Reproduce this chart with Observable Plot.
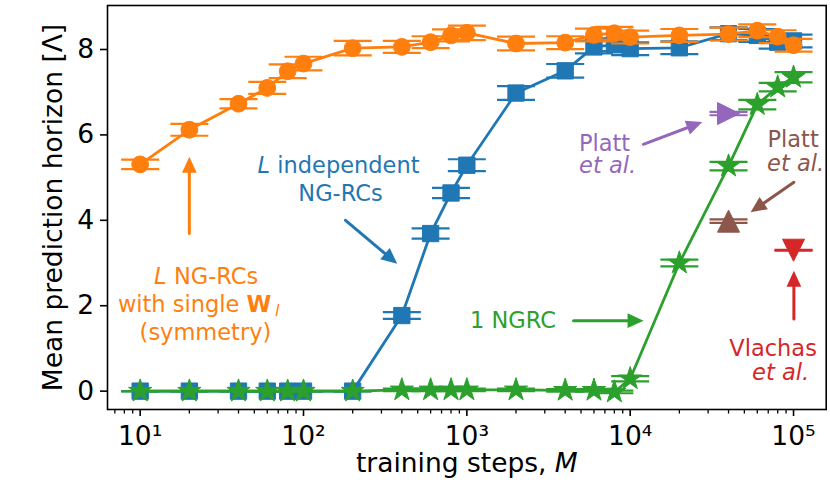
<!DOCTYPE html>
<html><head><meta charset="utf-8">
<script src="https://cdn.jsdelivr.net/npm/d3@7"></script>
<script src="https://cdn.jsdelivr.net/npm/@observablehq/plot@0.6"></script>
<style>body{margin:0;background:#fff} #chart svg{display:block}</style>
</head><body><div id="chart"></div>
<script>
// ---------- data ----------
const steps = [10,20,40,60,80,100,200,400,600,800,1000,2000,4000,6000,8000,10000,20000,40000,60000,80000,100000];
const sharedWValues = [5.31,6.12,6.73,7.10,7.49,7.67,8.03,8.06,8.17,8.33,8.39,8.14,8.16,8.34,8.38,8.29,8.33,8.36,8.44,8.30,8.10];
const sharedWErr    = [0.11,0.14,0.11,0.14,0.16,0.16,0.17,0.14,0.14,0.14,0.17,0.16,0.15,0.15,0.15,0.15,0.15,0.15,0.15,0.15,0.15];
const independentValues = [0,0,0,0,0,0,0,1.77,3.69,4.64,5.29,6.98,7.50,8.06,8.11,8.02,8.04,8.37,8.33,8.17,8.20];
const independentErr    = [0,0,0,0,0,0,0,0.08,0.12,0.12,0.14,0.16,0.16,0.15,0.15,0.15,0.15,0.15,0.15,0.15,0.15];
const singleValues = [0,0,0,0,0,0,0,0.03,0.03,0.03,0.03,0.03,0.02,0.02,-0.02,0.29,3.00,5.27,6.71,7.12,7.35];
const singleErr    = [0,0,0,0,0,0,0,0.03,0.03,0.03,0.03,0.03,0.03,0.03,0.03,0.06,0.08,0.10,0.11,0.10,0.12];
const refNames  = ["Platt (purple)","Platt (brown)","Vlachas"];
const refSteps  = [40000,40000,100000];
const refValues = [6.50,3.98,3.30];
const refErr    = [0.04,0.04,0.01];
const xMajorTicks = [10,100,1000,10000,100000];
const xTickLabels = ["10\u00B9","10\u00B2","10\u00B3","10\u2074","10\u2075"];
const yTicks = [0,2,4,6,8];
const yTickLabels = ["0","2","4","6","8"];

// annotation arrows (data coordinates: tail -> tip)
const arrowKeys = ["orange","blue","green","purple","brown","red"];
const arrowX1 = [20, 180.8, 4501, 12027, 100500, 100500];
const arrowY1 = [3.69, 4.00, 1.65, 5.78, 4.89, 1.69];
const arrowX2 = [20, 374.8, 12077, 27627, 54590, 100500];
const arrowY2 = [5.49, 2.98, 1.65, 6.30, 4.19, 2.82];

// ---------- layout / style ----------
const W = 830, H = 485;
const ML = 107, MR = 4.3, MT = 5, MB = 76;
const xDomain = [10 ** 0.8, 10 ** 5.2];
const yDomain = [-0.43, 9.03];
const C = {blue:"#1f77b4", orange:"#ff7f0e", green:"#2ca02c", red:"#d62728", purple:"#9467bd", brown:"#8c564b"};
const FONT = "DejaVu Sans";
const AF = 22.5; // annotation font size

function sym(fn){ return {draw(ctx, size){ const r = Math.sqrt(size / Math.PI); fn(ctx, r); }}; }
const capSym   = sym((c,r)=>{ c.moveTo(-r,0); c.lineTo(r,0); });
const triUp    = sym((c,r)=>{ c.moveTo(0,-r); c.lineTo(r,r); c.lineTo(-r,r); c.closePath(); });
const triDown  = sym((c,r)=>{ c.moveTo(0,r); c.lineTo(r,-r); c.lineTo(-r,-r); c.closePath(); });
const triRight = sym((c,r)=>{ c.moveTo(r,0); c.lineTo(-r,r); c.lineTo(-r,-r); c.closePath(); });
const headSym  = sym((c,r)=>{ c.moveTo(0,0); c.lineTo(-r*0.46,r); c.lineTo(r*0.46,r); c.closePath(); });

const rows = (xs, ys, es) => xs.map((x,i)=>({x, y: ys[i], e: es[i]}));
const sharedRows = rows(steps, sharedWValues, sharedWErr);
const indepRows  = rows(steps, independentValues, independentErr);
const singleRows = rows(steps, singleValues, singleErr);
const refRows = refNames.map((n,i)=>({name:n, x: refSteps[i], y: refValues[i], e: refErr[i]}));

function errMarks(data, color){
  return [
    Plot.ruleX(data, {x:"x", y1: d=>d.y-d.e, y2: d=>d.y+d.e, stroke: color, strokeWidth: 2.2}),
    Plot.dot(data, {x:"x", y: d=>d.y-d.e, symbol: capSym, r: 19, stroke: color, strokeWidth: 2.2, fill: "none"}),
    Plot.dot(data, {x:"x", y: d=>d.y+d.e, symbol: capSym, r: 19, stroke: color, strokeWidth: 2.2, fill: "none"})
  ];
}
function series(data, color, symbol, r){
  return [
    Plot.line(data, {x:"x", y:"y", stroke: color, strokeWidth: 2.8}),
    ...errMarks(data, color),
    Plot.dot(data, {x:"x", y:"y", symbol, r, fill: color, stroke: color, strokeWidth: 1})
  ];
}

const xs = d3.scaleLog().domain(xDomain).range([ML, W - MR]);
const ys = d3.scaleLinear().domain(yDomain).range([H - MB, MT]);
const arrows = arrowKeys.map((k,i)=>({color: C[k], x1: arrowX1[i], y1: arrowY1[i], x2: arrowX2[i], y2: arrowY2[i]}));
const rot = a => { const dx = xs(a.x2)-xs(a.x1), dy = ys(a.y2)-ys(a.y1); return Math.atan2(dx, -dy) * 180 / Math.PI; };

const annots = [
  {t:"L", x:14.52, y:2.67, c:C.orange, anchor:"end", italic:true},
  {t:"NG-RCs", x:14.52, y:2.67, c:C.orange, anchor:"start", dx:7.3},
  {t:"with single", x:42.6, y:2.03, c:C.orange, anchor:"end", dx:-3.6},
  {t:"W", x:42.6, y:2.03, c:C.orange, anchor:"start", dx:3.6, bold:true},
  {t:"l", x:42.6, y:2.03, c:C.orange, anchor:"start", dx:32, dy:6, italic:true, size:16},
  {t:"(symmetry)", x:25.1, y:1.37, c:C.orange, anchor:"middle"},
  {t:"L", x:62.4, y:5.27, c:C.blue, anchor:"end", italic:true},
  {t:"independent", x:62.4, y:5.27, c:C.blue, anchor:"start", dx:7.2},
  {t:"NG-RCs", x:168.5, y:4.62, c:C.blue, anchor:"middle"},
  {t:"1 NGRC", x:1918, y:1.65, c:C.green, anchor:"middle"},
  {t:"Platt", x:6967, y:5.79, c:C.purple, anchor:"middle"},
  {t:"et al.", x:7271, y:5.28, c:C.purple, anchor:"middle", italic:true},
  {t:"Platt", x:99380, y:5.89, c:C.brown, anchor:"middle"},
  {t:"et al.", x:102950, y:5.33, c:C.brown, anchor:"middle", italic:true},
  {t:"Vlachas", x:74950, y:0.99, c:C.red, anchor:"middle"},
  {t:"et al.", x:83310, y:0.44, c:C.red, anchor:"middle", italic:true}
];

const minorTicks = [];
for (let k = 0; k <= 5; k++) for (let m = 2; m <= 9; m++) {
  const v = m * 10 ** k; if (v >= xDomain[0] && v <= xDomain[1]) minorTicks.push(v);
}
const xLabelMap = new Map(xMajorTicks.map((t,i)=>[t, xTickLabels[i]]));
const yLabelMap = new Map(yTicks.map((t,i)=>[t, yTickLabels[i]]));

const plot = Plot.plot({
  width: W, height: H,
  marginLeft: ML, marginRight: MR, marginTop: MT, marginBottom: MB,
  x: {type: "log", domain: xDomain, label: null},
  y: {domain: yDomain, label: null},
  color: {type: "identity"},
  style: {fontFamily: FONT, background: "white", color: "black", overflow: "visible"},
  marks: [
    Plot.axisX(minorTicks, {tickSize: 4.5, tickFormat: () => "", strokeWidth: 1.3, label: null}),
    Plot.axisX(xMajorTicks, {tickSize: 7, tickPadding: 9.5, fontSize: 26.5, strokeWidth: 1.6, tickFormat: d => xLabelMap.get(d), label: null}),
    Plot.axisY(yTicks, {tickSize: 7, tickPadding: 6.5, fontSize: 26.5, strokeWidth: 1.6, tickFormat: d => yLabelMap.get(d), label: null}),
    ...series(indepRows, C.blue, "square", 9.2),
    ...series(sharedRows, C.orange, "circle", 8.4),
    ...series(singleRows, C.green, "star", 7.3),
    ...errMarks([refRows[0]], C.purple),
    Plot.dot([refRows[0]], {x:"x", y:"y", symbol: triRight, r: 11, fill: C.purple, stroke: C.purple, strokeWidth: 1}),
    ...errMarks([refRows[1]], C.brown),
    Plot.dot([refRows[1]], {x:"x", y:"y", symbol: triUp, r: 11, fill: C.brown, stroke: C.brown, strokeWidth: 1}),
    ...errMarks([refRows[2]], C.red),
    Plot.dot([refRows[2]], {x:"x", y:"y", symbol: triDown, r: 11, fill: C.red, stroke: C.red, strokeWidth: 1}),
    Plot.arrow(arrows, {x1:"x1", y1:"y1", x2:"x2", y2:"y2", stroke:"color", strokeWidth: 3, headLength: 0, insetEnd: 9}),
    Plot.dot(arrows, {x:"x2", y:"y2", symbol: headSym, r: 16, fill:"color", stroke:"none", rotate: rot}),
    ...annots.map(a => Plot.text([a], {x:"x", y:"y", text:"t", fill: a.c, textAnchor: a.anchor, lineAnchor: "middle",
        dx: a.dx || 0, dy: a.dy || 0, fontSize: a.size || AF,
        fontStyle: a.italic ? "italic" : "normal", fontWeight: a.bold ? "bold" : "normal"})),
    Plot.text(["Mean prediction horizon [\u039B]"], {frameAnchor: "left", textAnchor: "middle", lineAnchor: "middle", rotate: -90, dx: -54.4, fontSize: 26.5, fill: "black"}),
    Plot.text(["training steps,"], {frameAnchor: "bottom", textAnchor: "end", lineAnchor: "middle", dx: 79.7, dy: 54.4, fontSize: 26.5, fill: "black"}),
    Plot.text(["M"], {frameAnchor: "bottom", textAnchor: "start", lineAnchor: "middle", dx: 88, dy: 54.4, fontSize: 26.5, fontStyle: "italic", fill: "black"}),
    Plot.frame({stroke: "black", strokeWidth: 1.6})
  ]
});
document.getElementById("chart").appendChild(plot);
</script>
</body></html>
